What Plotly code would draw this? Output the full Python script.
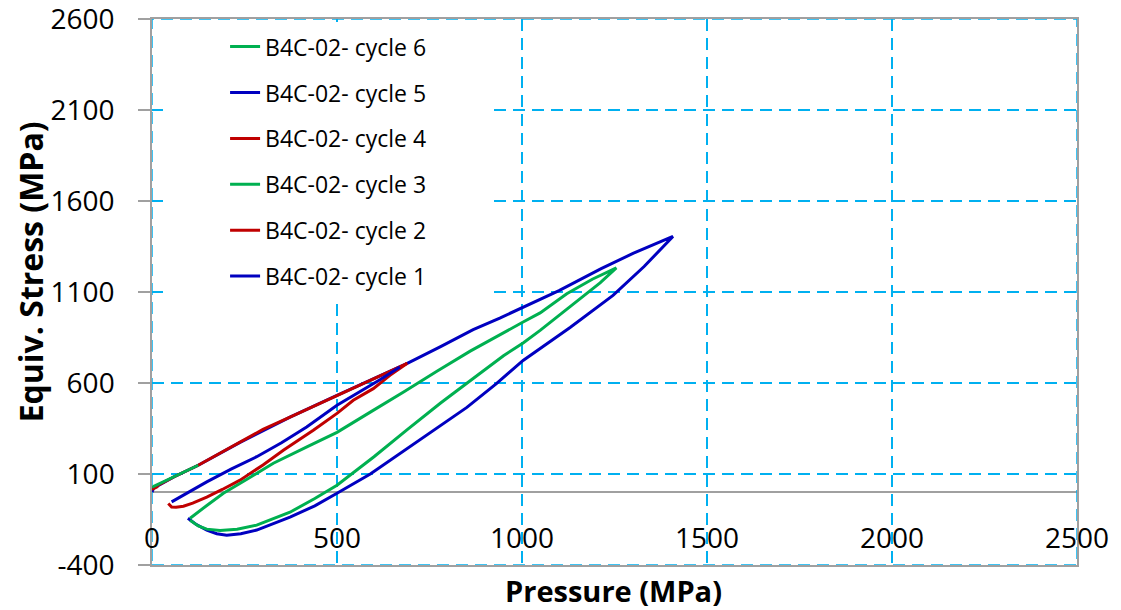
import plotly.graph_objects as go

# ---------------- data ----------------
x_ticks = [0, 500, 1000, 1500, 2000, 2500]
y_ticks = [-400, 100, 600, 1100, 1600, 2100, 2600]

series_names = ["B4C-02- cycle 1", "B4C-02- cycle 2", "B4C-02- cycle 3",
                "B4C-02- cycle 4", "B4C-02- cycle 5", "B4C-02- cycle 6"]
series_colors = ["#0000C0", "#C00000", "#00B050", "#C00000", "#0000C0", "#00B050"]

# cycle 1: loading along the upper branch to the peak, unloading along the lower branch
c1_pressure = [0, 4, 60, 125, 238, 373, 500, 598, 690, 780, 868, 940, 1003, 1100, 1214, 1300, 1408,
               1330, 1246, 1130, 1003, 930, 851, 760, 670, 590, 500, 440, 373, 320, 283, 240, 202, 175, 148, 120, 97]
c1_stress = [0, 22, 85, 148, 274, 412, 532, 625, 708, 800, 893, 957, 1015, 1108, 1228, 1312, 1405,
             1240, 1081, 905, 724, 595, 466, 340, 214, 100, -6, -75, -137, -180, -208, -228, -236, -228, -208, -178, -143]

# cycle 2
c2_pressure = [4, 60, 125, 180, 238, 300, 373, 440, 500, 550, 598, 645, 690,
               643, 598, 544, 500, 436, 355, 300, 238, 190, 148, 110, 85, 65, 53, 44]
c2_stress = [25, 85, 148, 210, 274, 345, 412, 475, 532, 580, 625, 668, 708,
             642, 569, 505, 433, 340, 230, 150, 66, 15, -27, -60, -77, -83, -82, -62]

# cycle 3
c3_pressure = [103, 125, 148, 184, 230, 283, 373, 440, 500, 600, 689, 780, 868, 950, 1003, 1049, 1130, 1211, 1255,
               1190, 1121, 1049, 1003, 950, 860, 770, 680, 590, 500, 420, 328, 260, 193, 150, 103]
c3_stress = [-154, -185, -203, -210, -203, -181, -110, -35, 38, 195, 342, 490, 625, 750, 820, 889, 1020, 1150, 1232,
             1170, 1090, 985, 935, 875, 775, 665, 550, 440, 329, 250, 159, 75, -6, -70, -143]

# cycle 4
c4_pressure = [0, 8, 16]
c4_stress = [15, 24, 32]

# cycle 5
c5_pressure = [53, 100, 148, 215, 283, 350, 418, 500, 560, 616, 670]
c5_stress = [-53, 2, 57, 128, 195, 272, 358, 478, 548, 618, 688]

# cycle 6
c6_pressure = [0, 40, 80, 125]
c6_stress = [28, 65, 105, 148]

pressures = [c1_pressure, c2_pressure, c3_pressure, c4_pressure, c5_pressure, c6_pressure]
stresses = [c1_stress, c2_stress, c3_stress, c4_stress, c5_stress, c6_stress]

x_title = "Pressure (MPa)"
y_title = "Equiv. Stress (MPa)"

# ---------------- figure ----------------
GRID = "#00B0F0"
AXIS = "#A0A0A0"
FONT = "Open Sans"
DASH = "12px,7px"

fig = go.Figure()
n = len(series_names)
for i, (px, sy, nm, col) in enumerate(zip(pressures, stresses, series_names, series_colors)):
    fig.add_trace(go.Scatter(
        x=px, y=sy, mode="lines", name=nm, legendgroup="g%d" % i,
        legendrank=n - i,
        line=dict(color=col, width=3),
    ))

fig.update_layout(
    width=1121, height=610,
    margin=dict(l=152, r=44, t=19, b=45, autoexpand=False),
    paper_bgcolor="white", plot_bgcolor="white",
    font=dict(family=FONT, color="black"),
    showlegend=True,
    legend=dict(
        x=0.079, y=0.9887, xanchor="left", yanchor="top",
        traceorder="grouped", tracegroupgap=13,
        font=dict(family=FONT, size=23, color="black"),
        bgcolor="rgba(0,0,0,0)", borderwidth=0,
    ),
    shapes=[
        # white area behind the legend hides the grid there
        dict(type="rect", xref="paper", yref="paper", x0=0.0119, x1=0.3622, y0=0.4826, y1=0.9945,
             fillcolor="white", line=dict(width=0), layer="above"),
        # dashed blue frame (grid lines at the axis ends)
        dict(type="rect", xref="x", yref="y", x0=x_ticks[0], x1=x_ticks[-1], y0=y_ticks[0], y1=y_ticks[-1],
             line=dict(color=GRID, width=1.5, dash=DASH), fillcolor="rgba(0,0,0,0)", layer="above"),
    ],
    annotations=[
        dict(text="<b>%s</b>" % y_title, xref="paper", yref="paper", x=0, y=0.536,
             xshift=-122, xanchor="center", yanchor="middle", textangle=-90, showarrow=False,
             font=dict(family=FONT, size=32, color="black")),
        dict(text="<b>%s</b>" % x_title, xref="paper", yref="paper", x=0.4985, y=0,
             yshift=-25, xanchor="center", yanchor="middle", showarrow=False,
             font=dict(family=FONT, size=29, color="black")),
    ],
)

fig.update_xaxes(
    range=[x_ticks[0], x_ticks[-1]], tickmode="array", tickvals=x_ticks,
    ticktext=[str(v) for v in x_ticks], automargin=False,
    showgrid=True, gridcolor=GRID, gridwidth=1.5, griddash=DASH,
    zeroline=False, showline=True, linecolor=AXIS, linewidth=1.5, mirror=True,
    ticks="", tickfont=dict(family=FONT, size=28, color="black"),
    ticklabelstandoff=-52, ticklabeloverflow="allow",
)
fig.update_yaxes(
    range=[y_ticks[0], y_ticks[-1]], tickmode="array", tickvals=y_ticks,
    ticktext=[str(v) for v in y_ticks], automargin=False,
    showgrid=True, gridcolor=GRID, gridwidth=1.5, griddash=DASH,
    zeroline=True, zerolinecolor=AXIS, zerolinewidth=1.5,
    showline=True, linecolor=AXIS, linewidth=1.5, mirror=True,
    ticks="outside", ticklen=12, tickcolor=AXIS, tickwidth=1.5,
    tickfont=dict(family=FONT, size=28, color="black"),
    ticklabelstandoff=18, ticklabeloverflow="allow",
)

fig.write_html("out.html")
